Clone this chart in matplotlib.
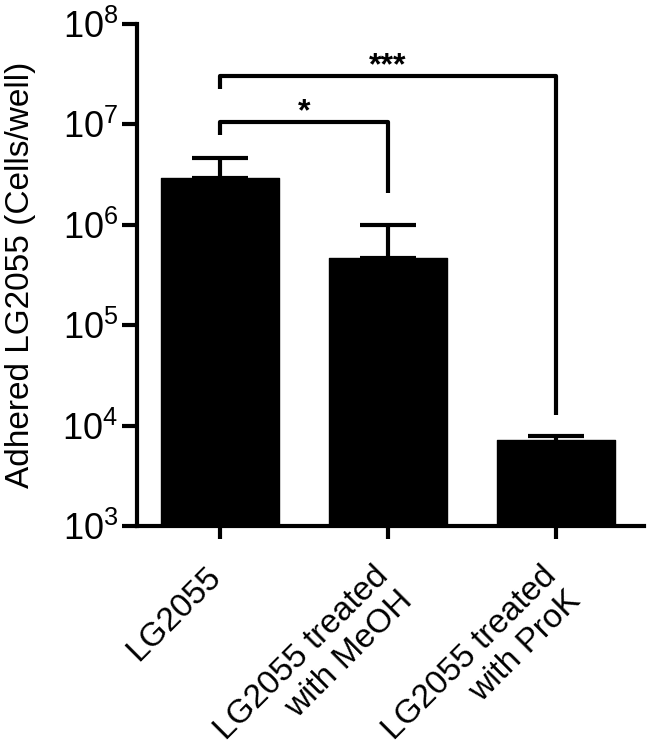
import matplotlib
matplotlib.use('Agg')
import numpy as np
import matplotlib.pyplot as plt

# values (cells/well, log scale)
groups = ['LG2055', 'LG2055 treated\nwith MeOH', 'LG2055 treated\nwith ProK']
means = [2.92e6, 4.67e5, 6.13e3]
upper_caps = [4.62e6, 1.0e6, 7.87e3]

# significance brackets: (left group, right group, bar height, left leg end, right leg end, label)
brackets = [
	(0, 1, 1.06e7, 7.8e6, 2.07e6, '*'),
	(0, 2, 3.05e7, 2.25e7, 1.28e4, '***'),
]

plt.rcParams['font.family'] = ['Liberation Sans', 'DejaVu Sans']
plt.rcParams['mathtext.default'] = 'regular'


def main():
	figure = plt.figure(figsize=(6.49, 7.45), dpi=100)
	axis = figure.add_axes([137 / 649, 1 - 526 / 745, (644 - 137) / 649, (526 - 24) / 745])
	axis.set_yscale('log')
	axis.set_ylim(1e3, 1e8)
	axis.set_xlim(-0.494, 2.524)

	x = np.arange(len(groups))
	axis.bar(x, means, width=0.70, bottom=1e3, color='black', edgecolor='black',
	         linewidth=1, joinstyle='round', zorder=2)
	errors = np.array(upper_caps) - np.array(means)
	axis.errorbar(x, means, yerr=[np.zeros(len(means)), errors], fmt='none',
	              ecolor='black', elinewidth=3, capsize=20, capthick=3, zorder=1)

	for left, right, height, left_end, right_end, label in brackets:
		axis.plot([left, left, right, right], [left_end, height, height, right_end],
		          color='black', linewidth=3, solid_joinstyle='round', solid_capstyle='butt',
		          clip_on=False)
		axis.annotate(label, xy=((left + right) / 2, height), xytext=(0, 1),
		              textcoords='offset points', ha='center', va='baseline',
		              fontsize=23, fontweight='bold')

	# rotated group labels, placed by hand so the line ends sit under each tick
	axis.set_xticks(x)
	axis.set_xticklabels([])
	for position, group in zip(x, groups):
		axis.annotate(group, xy=(position, 0), xycoords=axis.get_xaxis_transform(),
		              xytext=(-11, -25), textcoords='offset points', rotation=45,
		              ha='right', va='top', rotation_mode='anchor', multialignment='right',
		              fontsize=24, linespacing=1.15, annotation_clip=False)

	axis.set_yticks([1e3, 1e4, 1e5, 1e6, 1e7, 1e8])
	axis.minorticks_off()
	axis.tick_params(axis='y', which='major', direction='out', length=10.5, width=3,
	                 labelsize=26, pad=3)
	axis.tick_params(axis='x', which='major', direction='out', length=9, width=3)
	axis.set_ylabel('Adhered LG2055 (Cells/well)', fontsize=24, labelpad=19)

	for side in ['top', 'right']:
		axis.spines[side].set_visible(False)
	for side in ['left', 'bottom']:
		axis.spines[side].set_linewidth(3)

	figure.savefig('out.png', dpi=100)


if __name__ == '__main__':
	main()
